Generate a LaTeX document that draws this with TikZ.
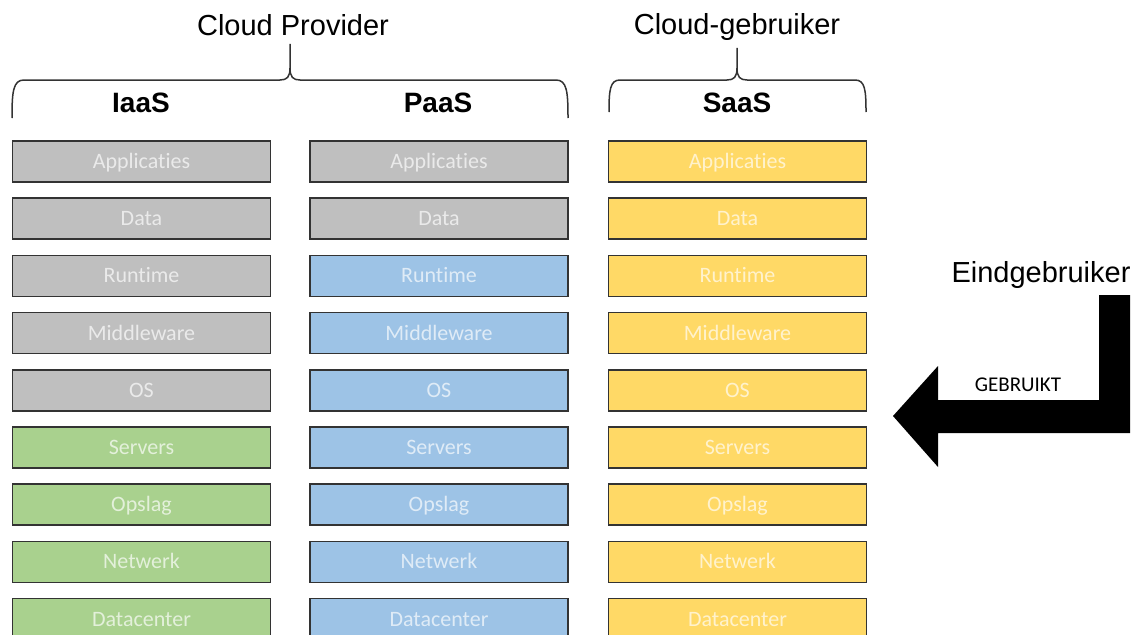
\documentclass[tikz,border=0pt]{standalone}
\usepackage{fontspec}
\setmainfont{Liberation Sans}
\newfontfamily\boxfont[Ligatures={NoCommon}]{Carlito}
\definecolor{cgray}{HTML}{BFBFBF}
\definecolor{cgreen}{HTML}{A9D18E}
\definecolor{cblue}{HTML}{9DC3E6}
\definecolor{cyellow}{HTML}{FFD966}
\definecolor{cline}{HTML}{333333}
\begin{document}
\begin{tikzpicture}[x=1pt,y=-1pt,
  layer/.style={draw=cline, line width=1.6pt, minimum width=258pt, minimum height=41pt,
    inner sep=0pt, text=white, text opacity=0.68,
    font=\boxfont\fontsize{22}{26}\selectfont, text height=14pt, text depth=0pt},
  head/.style={inner sep=0pt, font=\bfseries\fontsize{28}{32}\selectfont, text height=20pt, text depth=0pt},
  title/.style={inner sep=0pt, font=\fontsize{29}{34}\selectfont, text height=20pt, text depth=0pt},
  brace/.style={draw=cline, line width=1.5pt, line join=round}]
\clip (0,0) rectangle (1139,634);
\fill[white] (0,0) rectangle (1139,634);
% titles
\node[title] (cp) at (293,26) {Cloud Provider};
\node[title] (cg) at (737,25) {Cloud-gebruiker};
\node[title] (eu) at (1041,272.5) {Eindgebruiker};
% headers
\node[head] (hi) at (141,102) {IaaS};
\node[head] (hp) at (438,102) {PaaS};
\node[head] (hs) at (737,102) {SaaS};
% braces
\draw[brace] (12,118) .. controls (12,92) and (13,80) .. (24,80) -- (280,80)
  .. controls (287,80) and (290,77) .. (290,68) -- (290,44);
\draw[brace] (568,118) .. controls (568,92) and (567,80) .. (556,80) -- (300,80)
  .. controls (293,80) and (290,77) .. (290,68);
\draw[brace] (609,112) .. controls (609,90) and (610,80) .. (620,80) -- (727,80)
  .. controls (734,80) and (737,77) .. (737,68) -- (737,48);
\draw[brace] (866,112) .. controls (866,90) and (865,80) .. (855,80) -- (747,80)
  .. controls (740,80) and (737,77) .. (737,68);
% layers
\foreach \lab [count=\i from 0] in {Applicaties,Data,Runtime,Middleware,OS,Servers,Opslag,Netwerk,Datacenter}{
  \pgfmathsetmacro{\yy}{161.5+57.2*\i}
  \ifnum\i<5 \def\ci{cgray}\else\def\ci{cgreen}\fi
  \ifnum\i<2 \def\cpa{cgray}\else\def\cpa{cblue}\fi
  \node[layer, fill=\ci] (i\i) at (141.5,\yy) {\lab};
  \node[layer, fill=\cpa] (p\i) at (439,\yy) {\lab};
  \node[layer, fill=cyellow] (s\i) at (737.5,\yy) {\lab};
}
% arrow
\fill[black] (1099,295) -- (1130,295) -- (1130,433) -- (938,433) -- (938,467)
  -- (893,416) -- (938,366) -- (938,400) -- (1099,400) -- cycle;
\node[inner sep=0pt, font=\boxfont\fontsize{21}{25}\selectfont, text height=13.5pt, text depth=0pt] (gb) at (1018,385) {GEBRUIKT};
\end{tikzpicture}
\end{document}
